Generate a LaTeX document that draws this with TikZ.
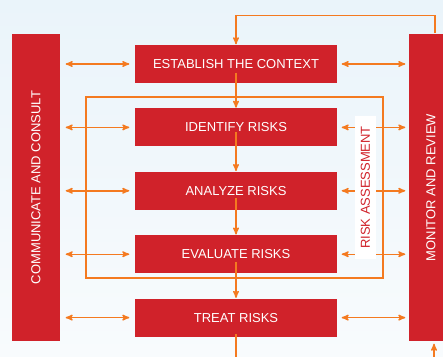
\documentclass[tikz,border=0pt]{standalone}
\usepackage{fontspec}
\setmainfont{Liberation Sans}
\usepackage{xcolor}
\usepackage{tikz}
\usetikzlibrary{arrows}
\usetikzlibrary{calc}
\usetikzlibrary{positioning}
\definecolor{riskred}{HTML}{D0222A}
\definecolor{riskorange}{HTML}{F47A20}
\definecolor{skytop}{HTML}{EAF4FA}
\definecolor{skybot}{HTML}{F8FBFD}

\begin{document}
\begin{tikzpicture}[x=1pt,y=-1pt,>=stealth',node distance=24pt,line width=1.4pt]
 				 \tikzstyle{stepbox}=[fill=riskred, text=white, minimum width=202pt, minimum height=38pt, inner sep=0pt, font=\fontsize{13}{15}\selectfont]
 				 \tikzstyle{sidebar}=[fill=riskred, text=white, rotate=90, minimum width=307pt, inner sep=0pt, font=\fontsize{13}{15}\selectfont]
 				 \tikzstyle{link}=[riskorange, line width=1.4pt]
 				 \useasboundingbox (0,0) rectangle (443,356);
 				 \clip (0,0) rectangle (443,356);
 				 \fill[top color=skytop, bottom color=skybot] (0,0) rectangle (443,356);
 				 % risk assessment frame
 				 \draw[link] (86,97) rectangle (383,278);
 					 % rotated bars: north is the left side, south the right side
 					 \node[sidebar, minimum height=48pt] 	(CC) at (36,187.5)	{COMMUNICATE AND CONSULT};
 					 \node[sidebar, minimum height=44pt] 	(MR) at (431,187.5)	{MONITOR AND REVIEW};
 					 \node[stepbox] 			(E) at (236,64)			{ESTABLISH THE CONTEXT};
 					 \node[stepbox] 			(I) [below=of E]		{IDENTIFY RISKS};
 					 \node[stepbox] 			(A) [below=of I]		{ANALYZE RISKS};
 					 \node[stepbox] 			(V) [below=of A]		{EVALUATE RISKS};
 					 \node[stepbox] 			(T) [below=of V]		{TREAT RISKS};
 					 \coordinate (out) at (236,360);
 					 \coordinate (back) at (434,360);
				% communicate and consult
				\draw[link, <->, shorten <=5pt, shorten >=5pt] (E.west -| CC.south) -- (E.west);
				\draw[link, <->, shorten <=5pt, shorten >=5pt] (I.west -| CC.south) -- (I.west);
				\draw[link, <->, shorten <=5pt, shorten >=5pt] (A.west -| CC.south) -- (A.west);
				\draw[link, <->, shorten <=5pt, shorten >=5pt] (V.west -| CC.south) -- (V.west);
				\draw[link, <->, shorten <=5pt, shorten >=5pt] (T.west -| CC.south) -- (T.west);
				% monitor and review
				\draw[link, <->, shorten <=4pt, shorten >=3pt] (E.east) -- (E.east -| MR.north);
				\draw[link, <->, shorten <=4pt, shorten >=3pt] (I.east) -- (I.east -| MR.north);
				\draw[link, <->, shorten <=4pt, shorten >=3pt] (A.east) -- (A.east -| MR.north);
				\draw[link, <->, shorten <=4pt, shorten >=3pt] (V.east) -- (V.east -| MR.north);
				\draw[link, <->, shorten <=4pt, shorten >=3pt] (T.east) -- (T.east -| MR.north);
				% process
				\draw[link, ->] ([yshift=11pt]E.south) -- (I.north);
				\draw[link, ->] ([yshift=15pt]I.south) -- (A.north);
				\draw[link, ->] ([yshift=13pt]A.south) -- (V.north);
				\draw[link, ->] ([yshift=12pt]V.south) -- (T.north);
				\draw[link] ([yshift=3pt]T.south) -- (out);
				\draw[link, ->] ([xshift=4pt]MR.east) -- ++(0,-18) -| (E.north);
				\draw[link, ->, shorten >=2pt] (back) -- (back |- MR.west);
 					 \node[fill=white, text=riskred, rotate=90, minimum width=143pt, minimum height=21pt, inner sep=0pt, font=\fontsize{13}{15}\selectfont] (RA) at (365.5,187.5) {RISK ASSESSMENT};
\end{tikzpicture}
\end{document}
